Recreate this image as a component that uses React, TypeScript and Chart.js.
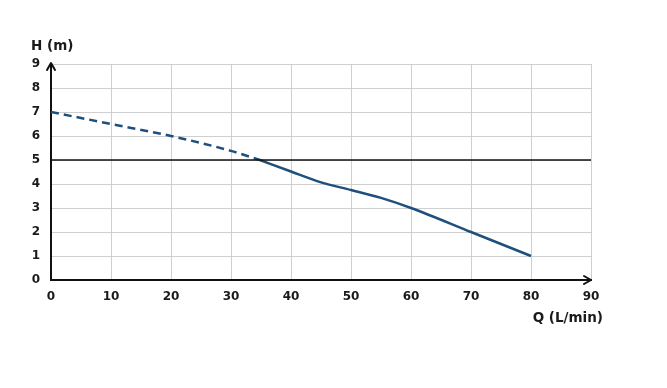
import React, { useEffect, useRef } from "react";
import { Chart, registerables } from "chart.js";

Chart.register(...registerables);

const xTicks = [0, 10, 20, 30, 40, 50, 60, 70, 80, 90];
const yTicks = [0, 1, 2, 3, 4, 5, 6, 7, 8, 9];
const dashedQ = [0, 10, 20, 30, 34.8];
const dashedH = [7, 6.5, 6.0, 5.38, 5.0];
const solidQ = [34.8, 40, 45, 50, 55, 60, 70, 80];
const solidH = [5.0, 4.52, 4.07, 3.75, 3.42, 3.0, 2.0, 1.0];
const refQ = [0, 90];
const refH = [5, 5];
const xTitle = "Q (L/min)";
const yTitle = "H (m)";

const FONT = "'DejaVu Sans', sans-serif";
const CURVE = "#1f4f7d";

const toPts = (xs: number[], ys: number[]) => xs.map((x, i) => ({ x, y: ys[i] }));

const decorPlugin = {
  id: "decor",
  afterDraw(chart: any) {
    const { ctx, chartArea } = chart;
    const { left, right, top, bottom } = chartArea;
    ctx.save();
    ctx.strokeStyle = "#111";
    ctx.lineWidth = 2;
    ctx.lineCap = "round";
    ctx.lineJoin = "round";
    // y arrow
    ctx.beginPath();
    ctx.moveTo(left - 4, top + 6);
    ctx.lineTo(left, top - 1);
    ctx.lineTo(left + 4, top + 6);
    ctx.stroke();
    // x arrow
    ctx.beginPath();
    ctx.moveTo(right - 7, bottom - 4);
    ctx.lineTo(right, bottom);
    ctx.lineTo(right - 7, bottom + 4);
    ctx.stroke();
    ctx.fillStyle = "#1a1a1a";
    ctx.font = `700 13.5px ${FONT}`;
    ctx.textBaseline = "middle";
    ctx.textAlign = "left";
    ctx.fillText(yTitle, 31, 46);
    ctx.textAlign = "right";
    ctx.fillText(xTitle, 603, 318);
    ctx.restore();
  },
};

export default function App() {
  const ref = useRef<HTMLCanvasElement>(null);
  useEffect(() => {
    const chart = new Chart(ref.current!, {
      type: "line",
      data: {
        datasets: [
          {
            data: toPts(refQ, refH),
            borderColor: "#111",
            borderWidth: 1.5,
            pointRadius: 0,
          },
          {
            data: toPts(dashedQ, dashedH),
            borderColor: CURVE,
            borderWidth: 2.5,
            borderDash: [8, 5],
            pointRadius: 0,
            cubicInterpolationMode: "monotone",
          },
          {
            data: toPts(solidQ, solidH),
            borderColor: CURVE,
            borderWidth: 2.5,
            pointRadius: 0,
            cubicInterpolationMode: "monotone",
          },
        ],
      },
      options: {
        animation: false,
        responsive: false,
        layout: { padding: { left: 0, top: 64, right: 76, bottom: 0 } },
        plugins: { legend: { display: false }, tooltip: { enabled: false } },
        scales: {
          x: {
            type: "linear",
            min: 0,
            max: 90,
            afterBuildTicks: (s: any) => {
              s.ticks = xTicks.map((v) => ({ value: v }));
            },
            afterFit: (s: any) => {
              s.height = 108;
            },
            grid: { color: "#cfcfcf", lineWidth: 1, drawTicks: false },
            border: { color: "#111", width: 2 },
            ticks: {
              padding: 10,
              color: "#1a1a1a",
              font: { family: FONT, size: 12, weight: "bold" },
            },
          },
          y: {
            type: "linear",
            min: 0,
            max: 9,
            afterBuildTicks: (s: any) => {
              s.ticks = yTicks.map((v) => ({ value: v }));
            },
            afterFit: (s: any) => {
              s.width = 51;
            },
            grid: { color: "#cfcfcf", lineWidth: 1, drawTicks: false },
            border: { color: "#111", width: 2 },
            ticks: {
              padding: 11,
              color: "#1a1a1a",
              font: { family: FONT, size: 12, weight: "bold" },
            },
          },
        },
      },
      plugins: [decorPlugin],
    } as any);
    return () => chart.destroy();
  }, []);
  return (
    <div style={{ position: "fixed", left: 0, top: 0, width: 667, height: 388, background: "#fff" }}>
      <canvas ref={ref} width={667} height={388} style={{ width: 667, height: 388 }} />
    </div>
  );
}
